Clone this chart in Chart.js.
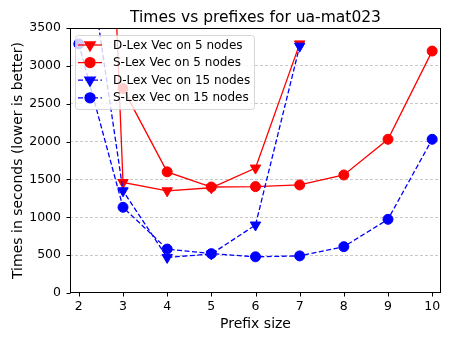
<!DOCTYPE html>
<html>
<head>
<meta charset="utf-8">
<script src="https://cdn.jsdelivr.net/npm/chart.js@4/dist/chart.umd.min.js"></script>
<style>
html,body{margin:0;padding:0;background:#fff;}
#wrap{width:454px;height:341px;position:relative;}
</style>
</head>
<body>
<div id="wrap"><canvas id="c" width="454" height="341"></canvas></div>
<script>
// ---- data ----
const prefixSizes = [2, 3, 4, 5, 6, 7, 8, 9, 10];
const dlex5  = [16000, 1460, 1350, 1390, 1650, 3290, null, null, null];
const slex5  = [null, 2700, 1600, 1400, 1405, 1427, 1559, 2030, 3195];
const dlex15 = [5300, 1350, 470, 515, 898, 3260, null, null, null];
const slex15 = [3290, 1132, 580, 520, 478, 490, 612, 973, 2030];
const xTicks = [2, 3, 4, 5, 6, 7, 8, 9, 10];
const yTicks = [0, 500, 1000, 1500, 2000, 2500, 3000, 3500];
const seriesNames = ['D-Lex Vec on 5 nodes', 'S-Lex Vec on 5 nodes', 'D-Lex Vec on 15 nodes', 'S-Lex Vec on 15 nodes'];
const titleText = 'Times vs prefixes for ua-mat023';
const xLabel = 'Prefix size';
const yLabel = 'Times in seconds (lower is better)';

const FONT = 'DejaVu Sans';
Chart.defaults.font.family = FONT;
Chart.defaults.color = '#000';

function pts(arr) { return prefixSizes.map((x, i) => ({x: x, y: arr[i]})); }

const styles = [
  {color: '#ff0000', dash: [], marker: 'triangle', rot: 180, r: 6},
  {color: '#ff0000', dash: [], marker: 'circle', rot: 0, r: 5},
  {color: '#0000ff', dash: [5, 2.5], marker: 'triangle', rot: 180, r: 6},
  {color: '#0000ff', dash: [5, 2.5], marker: 'circle', rot: 0, r: 5}
];
const seriesData = [dlex5, slex5, dlex15, slex15];

const datasets = seriesData.map((arr, i) => ({
  label: seriesNames[i],
  data: pts(arr),
  borderColor: styles[i].color,
  backgroundColor: styles[i].color,
  pointBackgroundColor: styles[i].color,
  pointBorderColor: styles[i].color,
  borderWidth: 1.3,
  borderDash: styles[i].dash,
  pointStyle: styles[i].marker,
  pointRotation: styles[i].rot,
  pointRadius: styles[i].r,
  pointBorderWidth: 1,
  pointHoverRadius: styles[i].r,
  tension: 0,
  spanGaps: false,
  order: 4 - i
}));

const decor = {
  id: 'decor',
  afterDraw(chart) {
    const ctx = chart.ctx;
    const a = chart.chartArea;
    const xs = chart.scales.x, ys = chart.scales.y;
    ctx.save();
    // frame
    ctx.strokeStyle = '#000';
    ctx.lineWidth = 1;
    ctx.setLineDash([]);
    const L = Math.round(a.left) + 0.5, R = Math.round(a.right) - 0.5;
    const T = Math.round(a.top) + 0.5, B = Math.round(a.bottom) - 0.5;
    ctx.strokeRect(L, T, R - L, B - T);
    // tick marks
    ctx.beginPath();
    xTicks.forEach(v => {
      const px = Math.round(xs.getPixelForValue(v)) + 0.5;
      ctx.moveTo(px, B); ctx.lineTo(px, B + 4);
    });
    yTicks.forEach(v => {
      const py = Math.round(ys.getPixelForValue(v)) + 0.5;
      ctx.moveTo(L, py); ctx.lineTo(L - 4, py);
    });
    ctx.stroke();
    // title
    ctx.fillStyle = '#000';
    ctx.textAlign = 'center';
    ctx.textBaseline = 'alphabetic';
    ctx.font = '15.5px "' + FONT + '"';
    const cx = (a.left + a.right) / 2;
    ctx.fillText(titleText, cx, 22);
    // x label
    ctx.font = '14px "' + FONT + '"';
    ctx.fillText(xLabel, cx, 328);
    // y label
    ctx.save();
    ctx.translate(18, (a.top + a.bottom) / 2);
    ctx.rotate(-Math.PI / 2);
    ctx.textBaseline = 'middle';
    ctx.fillText(yLabel, 0, 0);
    ctx.restore();
    // legend
    const bx = 75.5, by = 35.5, bw = 179, bh = 74, rr = 3;
    ctx.beginPath();
    ctx.moveTo(bx + rr, by);
    ctx.lineTo(bx + bw - rr, by); ctx.arcTo(bx + bw, by, bx + bw, by + rr, rr);
    ctx.lineTo(bx + bw, by + bh - rr); ctx.arcTo(bx + bw, by + bh, bx + bw - rr, by + bh, rr);
    ctx.lineTo(bx + rr, by + bh); ctx.arcTo(bx, by + bh, bx, by + bh - rr, rr);
    ctx.lineTo(bx, by + rr); ctx.arcTo(bx, by, bx + rr, by, rr);
    ctx.closePath();
    ctx.fillStyle = 'rgba(255,255,255,0.8)';
    ctx.fill();
    ctx.strokeStyle = 'rgba(204,204,204,0.8)';
    ctx.lineWidth = 1;
    ctx.stroke();
    ctx.font = '12px "' + FONT + '"';
    ctx.textAlign = 'left';
    ctx.textBaseline = 'middle';
    seriesNames.forEach((name, i) => {
      const st = styles[i];
      const y = 45 + i * 17.6;
      ctx.strokeStyle = st.color;
      ctx.lineWidth = 1.3;
      ctx.setLineDash(st.dash);
      ctx.beginPath();
      ctx.moveTo(78, y); ctx.lineTo(102, y);
      ctx.stroke();
      ctx.setLineDash([]);
      ctx.fillStyle = st.color;
      Chart.helpers.drawPoint(ctx, {pointStyle: st.marker, rotation: st.rot, radius: st.r, borderWidth: 1}, 90, y);
      ctx.fillStyle = '#000';
      ctx.fillText(name, 113, y + 0.5);
    });
    ctx.restore();
  }
};

new Chart(document.getElementById('c'), {
  type: 'line',
  data: {datasets: datasets},
  options: {
    responsive: false,
    animation: false,
    devicePixelRatio: 1,
    layout: {padding: {top: 28, right: 13, left: 0, bottom: 0}},
    plugins: {legend: {display: false}, title: {display: false}, tooltip: {enabled: false}},
    scales: {
      x: {
        type: 'linear',
        min: 1.8, max: 10.2,
        afterFit(s) { s.height = 48; },
        afterBuildTicks(s) { s.ticks = xTicks.map(v => ({value: v})); },
        grid: {display: false, drawTicks: false},
        border: {display: false},
        ticks: {padding: 6, font: {size: 12.5}, color: '#000', maxRotation: 0, autoSkip: false,
                callback: v => String(v)}
      },
      y: {
        type: 'linear',
        min: 0, max: 3500,
        afterFit(s) { s.width = 70; },
        afterBuildTicks(s) { s.ticks = yTicks.map(v => ({value: v})); },
        grid: {
          drawTicks: false,
          color: c => (c.tick && (c.tick.value === 0 || c.tick.value === 3500)) ? 'rgba(0,0,0,0)' : '#c8c8c8',
          lineWidth: 1
        },
        border: {display: false, dash: [3, 2]},
        ticks: {padding: 9, font: {size: 12.5}, color: '#000', autoSkip: false,
                callback: v => String(v)}
      }
    }
  },
  plugins: [decor]
});
</script>
</body>
</html>
